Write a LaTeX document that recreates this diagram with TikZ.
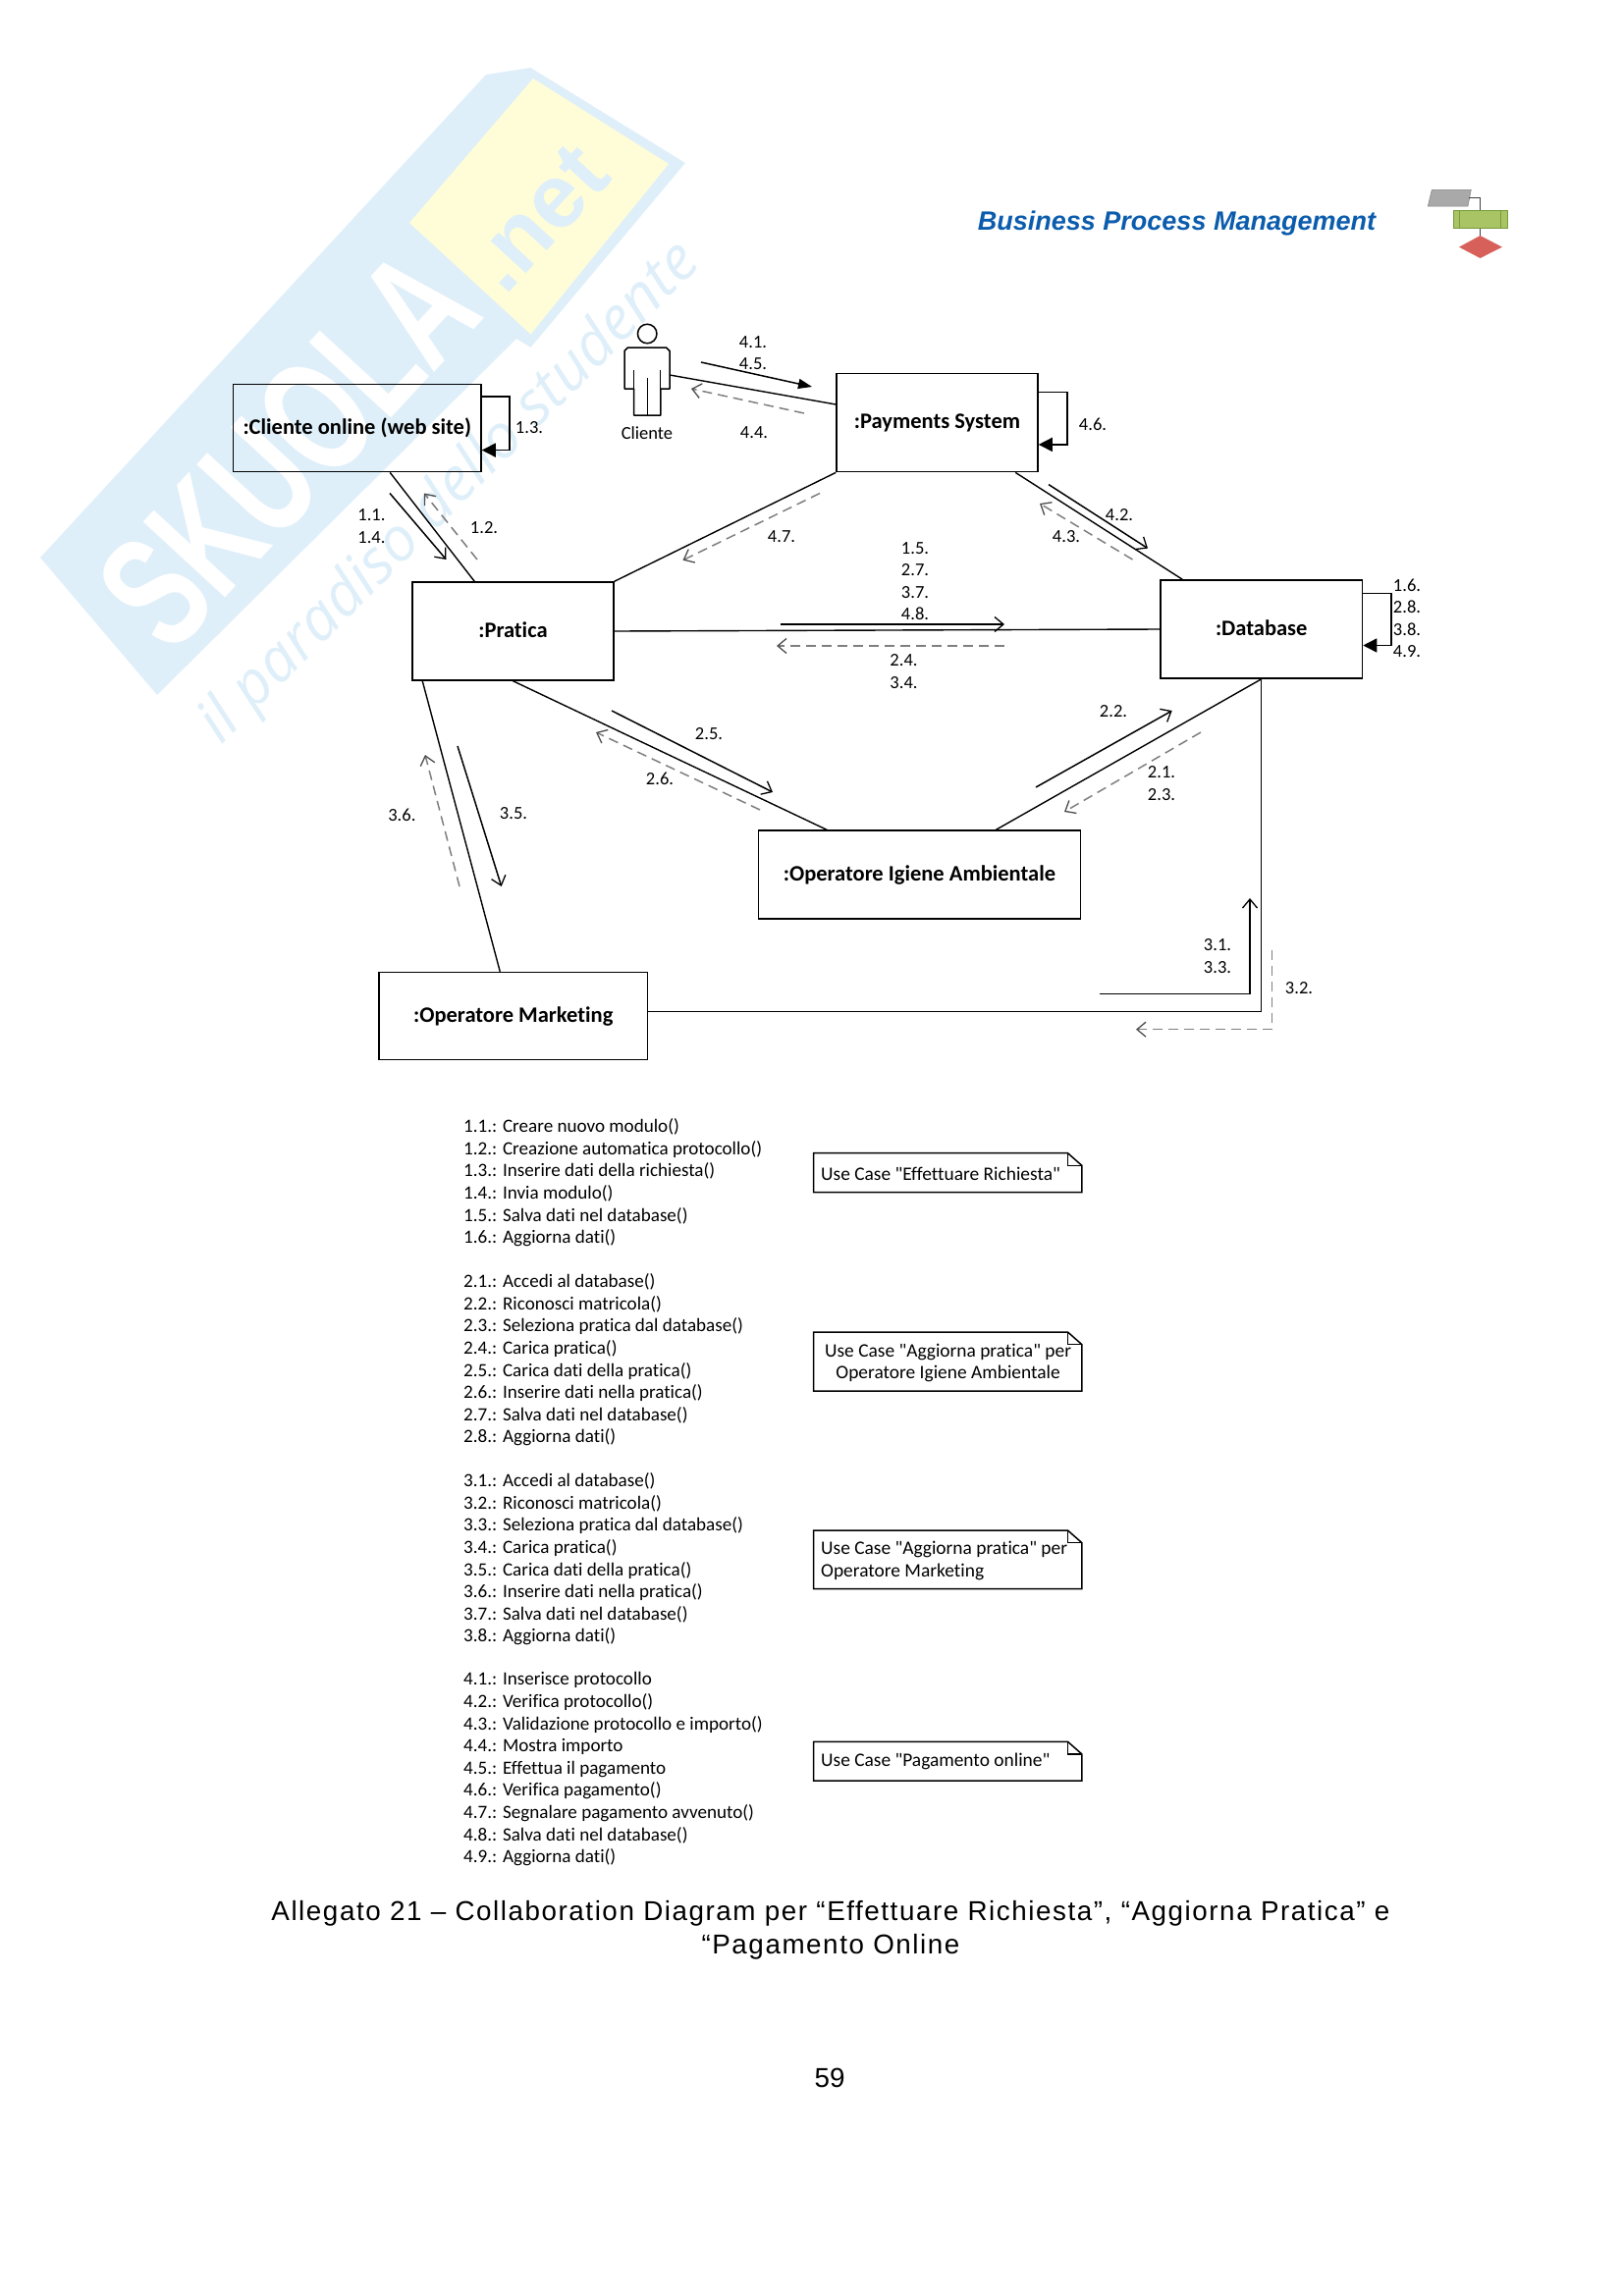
\documentclass[tikz,border=0pt]{standalone}
\usepackage{fontspec}
\usetikzlibrary{arrows.meta,calc}
\setmainfont[Ligatures=NoCommon]{Carlito}
\newfontfamily\carl[Ligatures=NoCommon]{Carlito}
\newfontfamily\capfont[LetterSpace=5.6]{Liberation Sans}
\newfontfamily\hdrfont{Liberation Sans}
\newfontfamily\wmfont{Liberation Sans}
\newfontfamily\wmhand{Open Sans}
\definecolor{wmblue}{HTML}{DFEFF9}
\definecolor{wmyellow}{HTML}{FFFDD8}
\definecolor{hdrblue}{HTML}{0B5CAD}
\definecolor{dashgray}{HTML}{7F7F7F}
\definecolor{lgray}{HTML}{A9A9A9}
\definecolor{lgreen}{HTML}{A8C464}
\definecolor{lgreend}{HTML}{7A9A3C}
\definecolor{lred}{HTML}{D8605A}
\tikzset{
  box/.style={draw=black,line width=1.5pt,inner sep=0pt,fill=none,text height=15pt,text depth=3pt,font=\fontsize{22.5}{26}\selectfont\carl\bfseries},
  conn/.style={draw=black,line width=1.4pt},
  msg/.style={draw=black,line width=1.5pt,-{Straight Barb[length=9pt,width=15pt,line width=1.3pt]}},
  ret/.style={draw=dashgray,line width=1.5pt,dash pattern=on 10pt off 6pt,-{Straight Barb[length=9pt,width=15pt,line width=1.3pt,color=black!70]}},
  self/.style={draw=black,line width=1.5pt,-{Triangle[length=14pt,width=14pt]}},
  lab/.style={inner sep=0pt,align=center,font=\fontsize{18.5}{22.4}\selectfont\carl},
  nt/.style={inner sep=0pt,align=center,font=\fontsize{19.4}{22.6}\selectfont\carl},
  lst/.style={inner sep=0pt,align=left,anchor=north west,font=\fontsize{19.1}{22.6}\selectfont\carl},
  note/.style={draw=black,line width=1.5pt,fill=white},
}
\begin{document}
\begin{tikzpicture}[x=1pt,y=-1pt]
\useasboundingbox (0,0) rectangle (1653,2339);
% watermark
\fill[wmblue] (41,568) -- (495,76) -- (540.5,69) -- (698,166) -- (540.5,354) -- (526,345) -- (160,708) -- cycle;
\fill[wmyellow] (543,80) -- (681,167) -- (540.5,340.5) -- (417,227) -- cycle;
\node[rotate=47.3,text=white,inner sep=0pt] (wm1) at (293,457) {\fontsize{165}{165}\selectfont\wmfont\bfseries\scalebox{.68}[1]{SKUOLA}};
\node[rotate=47.3,text=wmblue,inner sep=0pt] (wm2) at (548,222) {\fontsize{92}{92}\selectfont\wmfont\bfseries .net};
\node[rotate=45,text=wmblue,inner sep=0pt] (wm3) at (459,503) {\fontsize{62}{62}\selectfont\wmhand\itshape il paradiso dello studente};
% header
\node[inner sep=0pt,text=hdrblue] (hdr) at (1198.5,228) {\fontsize{27}{30}\selectfont\hdrfont\bfseries\itshape Business Process Management};
\fill[lgray,draw=gray,line width=.5pt] (1458.3,193.3) -- (1498.3,193.3) -- (1495,210) -- (1454.3,210) -- cycle;
\draw[black!75,line width=1.5pt] (1496,201.7) -- (1507.3,201.7) -- (1507.3,214);
\draw[black!75,line width=1pt] (1507.3,232.7) -- (1507.3,240);
\fill[lgreen,draw=lgreend,line width=.6pt] (1480,214) rectangle (1535,232.7);
\draw[lgreend,line width=1pt] (1486.7,214) -- (1486.7,232.7) (1528.3,214) -- (1528.3,232.7);
\fill[lred] (1486,251.7) -- (1507.5,240) -- (1530,251.7) -- (1507.5,263) -- cycle;
% boxes
\node[box,minimum width=252.5pt,minimum height=89.3pt] (cli) at (363.75,436) {:Cliente online (web site)};
\node[box,minimum width=205pt,minimum height=100.3pt] (pay) at (954.5,430.5) {:Payments System};
\node[box,minimum width=205pt,minimum height=100pt] (pra) at (522.5,643) {:Pratica};
\node[box,minimum width=205.5pt,minimum height=100pt] (dbs) at (1284.75,641) {:Database};
\node[box,minimum width=328pt,minimum height=89.7pt] (igi) at (936.5,891) {:Operatore Igiene Ambientale};
\node[box,minimum width=273.6pt,minimum height=89pt] (mkt) at (522.8,1035) {:Operatore Marketing};
% actor
\node[circle,draw=black,line width=1.5pt,minimum size=19.5pt,inner sep=0pt] (act) at (659.2,340) {};
\draw[black,line width=1.5pt,line join=round] (639.5,354) -- (678.5,354) -- (682,357.5) -- (682,396) -- (672.8,396) -- (672.8,423) -- (645.7,423) -- (645.7,396) -- (636,396) -- (636,357.5) -- cycle;
\draw[black,line width=1.2pt] (645.7,377) -- (645.7,396) (672.8,377) -- (672.8,396) (659.2,385) -- (659.2,423);
\coordinate (acthand) at (682,382);
\node[lab] (lcl) at (659,441) {Cliente};
% connectors between boxes
\draw[conn] (acthand) -- ([yshift=18.5pt]pay.west);
\draw[conn] ([xshift=160.5pt]cli.south west) -- ([xshift=64pt]pra.north west);
\draw[conn] (pay.south west) -- (pra.north east);
\draw[conn] ([xshift=183pt]pay.south west) -- ([xshift=23pt]dbs.north west);
\draw[conn] (pra.east) -- (dbs.west);
\draw[conn] (pra.south) -- ([xshift=70.5pt]igi.north west);
\draw[conn] (dbs.south) -- ([xshift=242.5pt]igi.north west);
\draw[conn] ([xshift=11pt]pra.south west) -- ([xshift=124pt]mkt.north west);
\coordinate (mktr) at ([yshift=4.3pt]mkt.east);
\draw[conn] (dbs.south) -- (dbs.south |- mktr) -- (mktr);
% self loops
\draw[self] ([yshift=32pt]cli.east) -- ++(28,0) -- ++(0,54.6) -- ([yshift=-22.6pt]cli.east);
\draw[self] ([yshift=31pt]pay.east) -- ++(29,0) -- ++(0,53.4) -- ([yshift=-22.4pt]pay.east);
\draw[self] ([yshift=36.4pt]dbs.east) -- ++(28.5,0) -- ++(0,52.9) -- ([yshift=-16.5pt]dbs.east);
% free message arrows
\coordinate (m41a) at (714,369); \coordinate (m41b) at (827,394);
\coordinate (m44a) at (819,421); \coordinate (m44b) at (704,396);
\coordinate (m11a) at (397,502.5); \coordinate (m11b) at (454.5,570);
\coordinate (m12a) at (486,570); \coordinate (m12b) at (432,502.5);
\coordinate (m47a) at (835,502.5); \coordinate (m47b) at (695.5,570.7);
\coordinate (m42a) at (1068,493.6); \coordinate (m42b) at (1169,558.6);
\coordinate (m43a) at (1153.5,570); \coordinate (m43b) at (1059,513);
\coordinate (m15a) at (795,636); \coordinate (m15b) at (1023,636);
\coordinate (m24a) at (1023,658); \coordinate (m24b) at (791,658);
\coordinate (m25a) at (623,724); \coordinate (m25b) at (787,807);
\coordinate (m26a) at (774,825); \coordinate (m26b) at (607,746);
\coordinate (m22a) at (1055,802); \coordinate (m22b) at (1193.7,724);
\coordinate (m21a) at (1223,746); \coordinate (m21b) at (1084,827);
\coordinate (m35a) at (466,760); \coordinate (m35b) at (510.7,903);
\coordinate (m36a) at (468,903); \coordinate (m36b) at (433,769);
\coordinate (m31a) at (1120,1012.7); \coordinate (m31c) at (1273,1012.7); \coordinate (m31b) at (1273,915);
\coordinate (m32a) at (1295.7,968); \coordinate (m32c) at (1295.7,1048.7); \coordinate (m32b) at (1157,1048.7);
\draw[draw=black,line width=1.5pt,-{Triangle[length=14pt,width=10pt]}] (m41a) -- (m41b);
\draw[ret] (m44a) -- (m44b);
\draw[msg] (m11a) -- (m11b);
\draw[ret] (m12a) -- (m12b);
\draw[ret] (m47a) -- (m47b);
\draw[msg] (m42a) -- (m42b);
\draw[ret] (m43a) -- (m43b);
\draw[msg] (m15a) -- (m15b);
\draw[ret] (m24a) -- (m24b);
\draw[msg] (m25a) -- (m25b);
\draw[ret] (m26a) -- (m26b);
\draw[msg] (m22a) -- (m22b);
\draw[ret] (m21a) -- (m21b);
\draw[msg] (m35a) -- (m35b);
\draw[ret] (m36a) -- (m36b);
\draw[msg] (m31a) -- (m31c) -- (m31b);
\draw[ret,line width=1.2pt] (m32a) -- (m32c) -- (m32b);
% labels
\node[lab] (l13) at (539,436) {1.3.};
\node[lab] (l4145) at (767,359.5) {4.1.\\4.5.};
\node[lab] (l44) at (768,441) {4.4.};
\node[lab] (l46) at (1113,432) {4.6.};
\node[lab] (l1114) at (378.5,536) {1.1.\\1.4.};
\node[lab] (l12) at (493,537.5) {1.2.};
\node[lab] (l47) at (796,547) {4.7.};
\node[lab] (l42) at (1140,525) {4.2.};
\node[lab] (l43) at (1086,547) {4.3.};
\node[lab] (l15) at (932,592) {1.5.\\2.7.\\3.7.\\4.8.};
\node[lab] (l24) at (920.5,684) {2.4.\\3.4.};
\node[lab] (l16) at (1433,630) {1.6.\\2.8.\\3.8.\\4.9.};
\node[lab] (l25) at (722,748) {2.5.};
\node[lab] (l26) at (672,793) {2.6.};
\node[lab] (l22) at (1134,725) {2.2.};
\node[lab] (l21) at (1183,798) {2.1.\\2.3.};
\node[lab] (l35) at (523,829) {3.5.};
\node[lab] (l36) at (409.4,830) {3.6.};
\node[lab] (l31) at (1240,974) {3.1.\\3.3.};
\node[lab] (l32) at (1323,1006.7) {3.2.};
% lists
\node[lst] (g1) at (472,1139.5) {1.1.: Creare nuovo modulo()\\1.2.: Creazione automatica protocollo()\\1.3.: Inserire dati della richiesta()\\1.4.: Invia modulo()\\1.5.: Salva dati nel database()\\1.6.: Aggiorna dati()};
\node[lst] (g2) at (472,1297.5) {2.1.: Accedi al database()\\2.2.: Riconosci matricola()\\2.3.: Seleziona pratica dal database()\\2.4.: Carica pratica()\\2.5.: Carica dati della pratica()\\2.6.: Inserire dati nella pratica()\\2.7.: Salva dati nel database()\\2.8.: Aggiorna dati()};
\node[lst] (g3) at (472,1500.5) {3.1.: Accedi al database()\\3.2.: Riconosci matricola()\\3.3.: Seleziona pratica dal database()\\3.4.: Carica pratica()\\3.5.: Carica dati della pratica()\\3.6.: Inserire dati nella pratica()\\3.7.: Salva dati nel database()\\3.8.: Aggiorna dati()};
\node[lst] (g4) at (472,1703.5) {4.1.: Inserisce protocollo\\4.2.: Verifica protocollo()\\4.3.: Validazione protocollo e importo()\\4.4.: Mostra importo\\4.5.: Effettua il pagamento\\4.6.: Verifica pagamento()\\4.7.: Segnalare pagamento avvenuto()\\4.8.: Salva dati nel database()\\4.9.: Aggiorna dati()};
% notes
\draw[note] (828.6,1174.7) -- (1087.5,1174.7) -- (1101.8,1187.3) -- (1101.8,1214.7) -- (828.6,1214.7) -- cycle;
\draw[black,line width=1.5pt] (1087.5,1174.7) -- (1087.5,1187.3) -- (1101.8,1187.3);
\node[nt,anchor=west] (n1) at (836,1195.5) {Use Case "Effettuare Richiesta"};
\draw[note] (828.6,1357) -- (1087.5,1357) -- (1101.8,1369.6) -- (1101.8,1417) -- (828.6,1417) -- cycle;
\draw[black,line width=1.5pt] (1087.5,1357) -- (1087.5,1369.6) -- (1101.8,1369.6);
\node[nt] (n2) at (965.6,1388.5) {Use Case "Aggiorna pratica" per\\Operatore Igiene Ambientale};
\draw[note] (828.6,1559) -- (1087.5,1559) -- (1101.8,1571.6) -- (1101.8,1618.7) -- (828.6,1618.7) -- cycle;
\draw[black,line width=1.5pt] (1087.5,1559) -- (1087.5,1571.6) -- (1101.8,1571.6);
\node[nt,anchor=west,align=left] (n3) at (836,1590) {Use Case "Aggiorna pratica" per\\Operatore Marketing};
\draw[note] (828.6,1774.3) -- (1087.5,1774.3) -- (1101.8,1786.9) -- (1101.8,1814) -- (828.6,1814) -- cycle;
\draw[black,line width=1.5pt] (1087.5,1774.3) -- (1087.5,1786.9) -- (1101.8,1786.9);
\node[nt,anchor=west] (n4) at (836,1794.5) {Use Case "Pagamento online"};
% caption
\node[inner sep=0pt,align=center,font=\fontsize{27.8}{34}\selectfont\capfont] (cap) at (846,1966) {Allegato 21 – Collaboration Diagram per “Effettuare Richiesta”, “Aggiorna Pratica” e\\“Pagamento Online};
\node[inner sep=0pt,font=\fontsize{27.8}{34}\selectfont\hdrfont] (pg) at (845,2117) {59};
\end{tikzpicture}
\end{document}
